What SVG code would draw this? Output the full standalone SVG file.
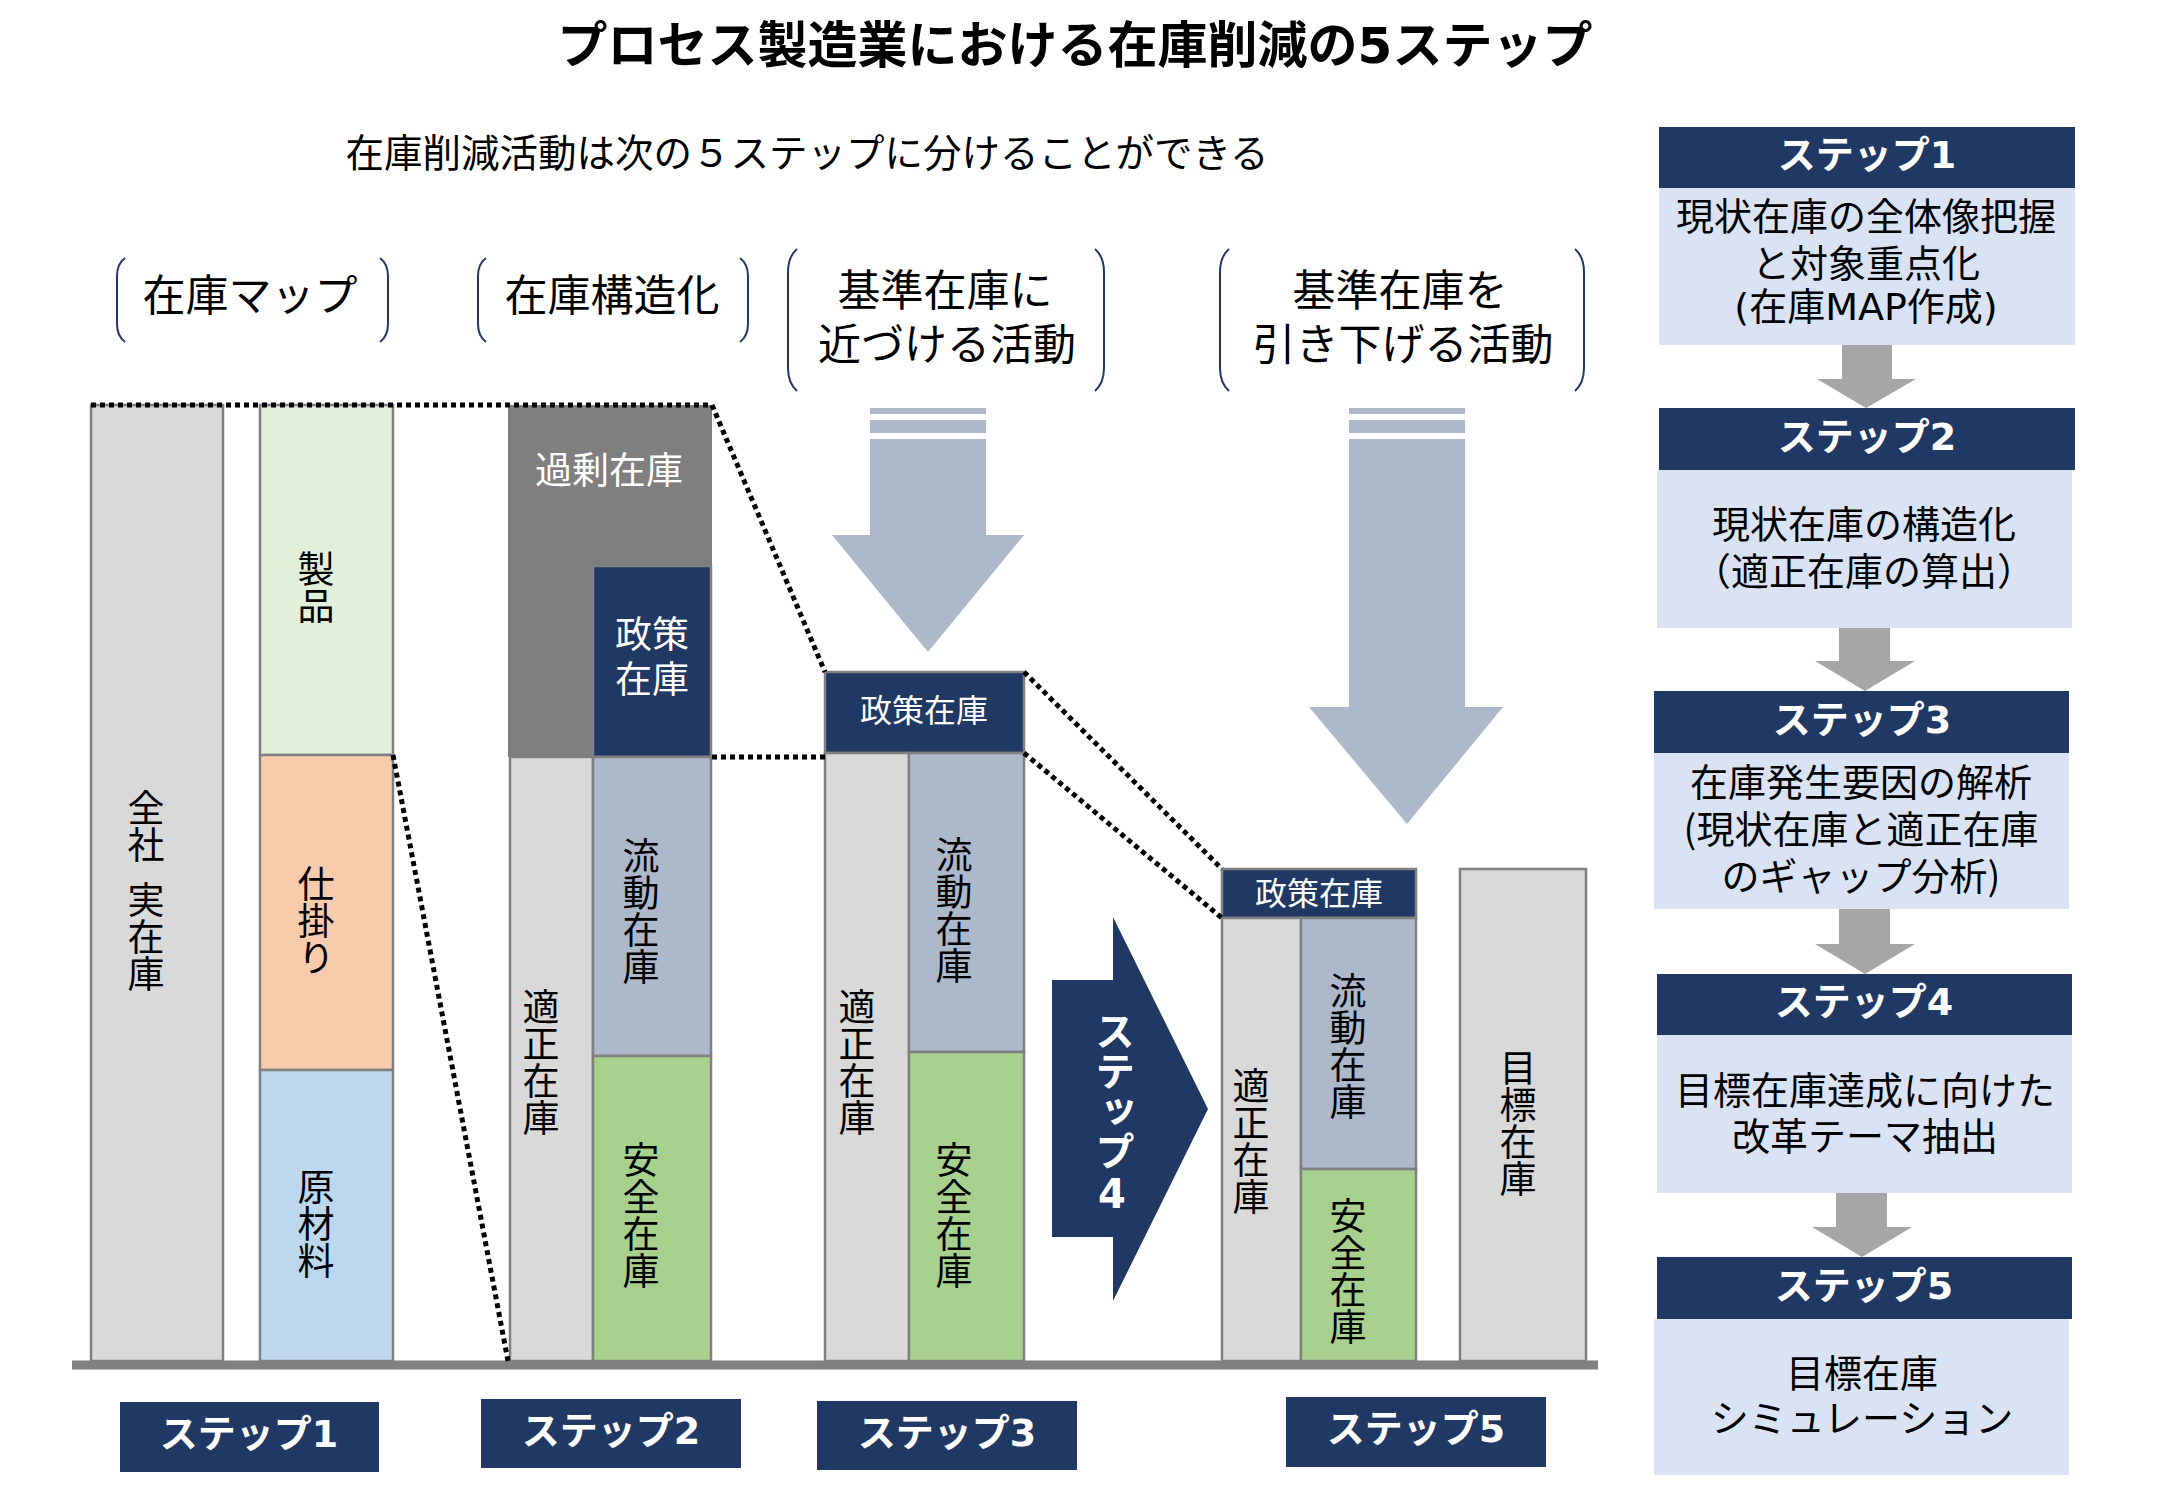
<svg xmlns="http://www.w3.org/2000/svg" width="2160" height="1495" viewBox="0 0 2160 1495">
<style>
.jp{font-family:"Noto Sans CJK JP",sans-serif;}
.lt{font-family:"DejaVu Sans","Noto Sans CJK JP",sans-serif;}
.b{font-weight:bold;}
.c{text-anchor:middle;dominant-baseline:central;}
.v{writing-mode:vertical-rl;text-orientation:upright;text-anchor:middle;}
.w{fill:#ffffff;}
.k{fill:#000000;}
.bar{stroke:#808080;stroke-width:2.5;}
.navy{fill:#203864;}
.dot{fill:none;stroke:#000;stroke-width:5;stroke-dasharray:5 4;}
.brk{fill:none;stroke:#203864;stroke-width:2;}
</style>

<rect width="2160" height="1495" fill="#ffffff"/>

<g id="title">
<text class="lt b c k" x="1075" y="46" font-size="50">プロセス製造業における在庫削減の5ステップ</text>
<text class="jp c k" x="807" y="150" font-size="38.5">在庫削減活動は次の５ステップに分けることができる</text>
</g>

<g id="label-map">
<path class="brk" d="M125,258 Q117,264 117,276 V324 Q117,336 125,342"/>
<path class="brk" d="M380,258 Q388,264 388,276 V324 Q388,336 380,342"/>
<text class="jp c k" x="250" y="292" font-size="43">在庫マップ</text>
</g>
<g id="label-structure">
<path class="brk" d="M486,258 Q478,264 478,276 V324 Q478,336 486,342"/>
<path class="brk" d="M740,258 Q748,264 748,276 V324 Q748,336 740,342"/>
<text class="jp c k" x="612" y="292" font-size="43">在庫構造化</text>
</g>
<g id="label-approach">
<path class="brk" d="M797,249 Q788,257 788,272 V368 Q788,383 797,391"/>
<path class="brk" d="M1095,249 Q1104,257 1104,272 V368 Q1104,383 1095,391"/>
<text class="jp c k" x="945" y="287" font-size="43">基準在庫に</text>
<text class="jp c k" x="947" y="341" font-size="43">近づける活動</text>
</g>
<g id="label-lower">
<path class="brk" d="M1229,249 Q1220,257 1220,272 V368 Q1220,383 1229,391"/>
<path class="brk" d="M1575,249 Q1584,257 1584,272 V368 Q1584,383 1575,391"/>
<text class="jp c k" x="1400" y="287" font-size="43">基準在庫を</text>
<text class="jp c k" x="1403" y="341" font-size="43">引き下げる活動</text>
</g>

<g id="step1-bars">
<rect class="bar" x="91" y="405" width="132" height="956" fill="#d9d9d9"/>
<text class="jp v k" x="146" y="826" font-size="37">全社</text>
<text class="jp v k" x="146" y="937" font-size="37">実在庫</text>
<rect class="bar" x="260" y="405" width="133" height="350" fill="#e2f0d9"/>
<rect class="bar" x="260" y="755" width="133" height="315" fill="#f8cbad"/>
<rect class="bar" x="260" y="1070" width="133" height="291" fill="#bdd7ee"/>
<text class="jp v k" x="316" y="587" font-size="37">製品</text>
<text class="jp v k" x="316" y="921" font-size="37">仕掛り</text>
<text class="jp v k" x="316" y="1224" font-size="37">原材料</text>
</g>

<g id="step2-bars">
<rect x="508" y="405" width="204" height="352" fill="#7f7f7f"/>
<text class="jp c w" x="609" y="468" font-size="37">過剰在庫</text>
<rect class="bar navy" x="593" y="566" width="118" height="191"/>
<text class="jp c w" x="652" y="632" font-size="37">政策</text>
<text class="jp c w" x="652" y="677" font-size="37">在庫</text>
<rect class="bar" x="510" y="757" width="83" height="604" fill="#d9d9d9"/>
<rect class="bar" x="593" y="757" width="118" height="299" fill="#adb9ca"/>
<rect class="bar" x="593" y="1056" width="118" height="305" fill="#a9d18e"/>
<text class="jp v k" x="541" y="1062" font-size="37">適正在庫</text>
<text class="jp v k" x="641" y="911" font-size="37">流動在庫</text>
<text class="jp v k" x="641" y="1215" font-size="37">安全在庫</text>
</g>

<g id="step3-bars">
<rect class="bar navy" x="825" y="672" width="199" height="81"/>
<text class="jp c w" x="924" y="708" font-size="32">政策在庫</text>
<rect class="bar" x="825" y="753" width="84" height="608" fill="#d9d9d9"/>
<rect class="bar" x="909" y="753" width="115" height="299" fill="#adb9ca"/>
<rect class="bar" x="909" y="1052" width="115" height="309" fill="#a9d18e"/>
<text class="jp v k" x="857" y="1062" font-size="37">適正在庫</text>
<text class="jp v k" x="954" y="910" font-size="37">流動在庫</text>
<text class="jp v k" x="954" y="1215" font-size="37">安全在庫</text>
</g>

<g id="step4-arrow">
<path class="navy" d="M1052,980 H1113 V917 L1208,1109 L1113,1301 V1237 H1052 Z"/>
<text class="lt b v w" x="1112" y="1114" font-size="40">ステップ4</text>
</g>

<g id="step5-bars">
<rect class="bar navy" x="1222" y="869" width="194" height="49"/>
<text class="jp c w" x="1319" y="891" font-size="32">政策在庫</text>
<rect class="bar" x="1222" y="918" width="79" height="443" fill="#d9d9d9"/>
<rect class="bar" x="1301" y="918" width="115" height="251" fill="#adb9ca"/>
<rect class="bar" x="1301" y="1169" width="115" height="192" fill="#a9d18e"/>
<text class="jp v k" x="1251" y="1141" font-size="37">適正在庫</text>
<text class="jp v k" x="1348" y="1046" font-size="37">流動在庫</text>
<text class="jp v k" x="1348" y="1271" font-size="37">安全在庫</text>
<rect class="bar" x="1460" y="869" width="126" height="492" fill="#d9d9d9"/>
<text class="jp v k" x="1518" y="1123" font-size="37">目標在庫</text>
</g>

<g id="down-arrows">
<rect x="870" y="408" width="116" height="6" fill="#adb9ca"/>
<rect x="870" y="420" width="116" height="13" fill="#adb9ca"/>
<path d="M870,439 H986 V535 H1024 L928,652 L832,535 H870 Z" fill="#adb9ca"/>
<rect x="1349" y="408" width="116" height="6" fill="#adb9ca"/>
<rect x="1349" y="420" width="116" height="13" fill="#adb9ca"/>
<path d="M1349,439 H1465 V707 H1503 L1407,824 L1309,707 H1349 Z" fill="#adb9ca"/>
</g>

<g id="ground">
<line x1="72" y1="1365" x2="1598" y2="1365" stroke="#808080" stroke-width="9"/>
</g>

<g id="connectors">
<line class="dot" x1="91" y1="405" x2="712" y2="405"/>
<line class="dot" x1="712" y1="405" x2="825" y2="672"/>
<line class="dot" x1="712" y1="757" x2="825" y2="757"/>
<line class="dot" x1="393" y1="755" x2="508" y2="1361"/>
<line class="dot" x1="1024" y1="672" x2="1222" y2="869"/>
<line class="dot" x1="1024" y1="753" x2="1222" y2="918"/>
<path d="M1842,343 H1892 V379 H1916 L1866,408 L1817,379 H1842 Z" fill="#a6a6a6"/>
<path d="M1839,625 H1890 V661 H1915 L1865,691 L1815,661 H1839 Z" fill="#a6a6a6"/>
<path d="M1839,909 H1890 V944 H1915 L1865,974 L1815,944 H1839 Z" fill="#a6a6a6"/>
<path d="M1836,1190 H1887 V1227 H1912 L1862,1257 L1812,1227 H1836 Z" fill="#a6a6a6"/>
</g>

<g id="bottom-step1">
<rect class="navy" x="120" y="1402" width="259" height="70"/>
<text class="lt b c w" x="249" y="1434" font-size="38">ステップ1</text>
</g>
<g id="bottom-step2">
<rect class="navy" x="481" y="1399" width="260" height="69"/>
<text class="lt b c w" x="611" y="1431" font-size="38">ステップ2</text>
</g>
<g id="bottom-step3">
<rect class="navy" x="817" y="1401" width="260" height="69"/>
<text class="lt b c w" x="947" y="1433" font-size="38">ステップ3</text>
</g>
<g id="bottom-step5">
<rect class="navy" x="1286" y="1397" width="260" height="70"/>
<text class="lt b c w" x="1416" y="1429" font-size="38">ステップ5</text>
</g>

<g id="panel-step1">
<rect class="navy" x="1659" y="127" width="416" height="61"/>
<text class="lt b c w" x="1867" y="155" font-size="38">ステップ1</text>
<rect x="1659" y="188" width="416" height="157" fill="#dae3f3"/>
<text class="jp c k" x="1866" y="213" font-size="38">現状在庫の全体像把握</text>
<text class="jp c k" x="1866" y="260" font-size="38">と対象重点化</text>
<text class="lt c k" x="1866" y="307" font-size="38">(在庫MAP作成)</text>
</g>
<g id="panel-step2">
<rect class="navy" x="1659" y="408" width="416" height="62"/>
<text class="lt b c w" x="1867" y="437" font-size="38">ステップ2</text>
<rect x="1657" y="470" width="415" height="158" fill="#dae3f3"/>
<text class="jp c k" x="1864" y="521" font-size="38">現状在庫の構造化</text>
<text class="jp c k" x="1864" y="568" font-size="38">（適正在庫の算出）</text>
</g>
<g id="panel-step3">
<rect class="navy" x="1654" y="691" width="415" height="62"/>
<text class="lt b c w" x="1862" y="720" font-size="38">ステップ3</text>
<rect x="1654" y="753" width="415" height="156" fill="#dae3f3"/>
<text class="jp c k" x="1861" y="779" font-size="38">在庫発生要因の解析</text>
<text class="jp c k" x="1861" y="826" font-size="38">(現状在庫と適正在庫</text>
<text class="jp c k" x="1861" y="873" font-size="38">のギャップ分析)</text>
</g>
<g id="panel-step4">
<rect class="navy" x="1657" y="974" width="415" height="61"/>
<text class="lt b c w" x="1864" y="1002" font-size="38">ステップ4</text>
<rect x="1657" y="1035" width="415" height="158" fill="#dae3f3"/>
<text class="jp c k" x="1865" y="1087" font-size="38">目標在庫達成に向けた</text>
<text class="jp c k" x="1865" y="1133" font-size="38">改革テーマ抽出</text>
</g>
<g id="panel-step5">
<rect class="navy" x="1657" y="1257" width="415" height="62"/>
<text class="lt b c w" x="1864" y="1286" font-size="38">ステップ5</text>
<rect x="1654" y="1319" width="415" height="156" fill="#dae3f3"/>
<text class="jp c k" x="1862" y="1370" font-size="38">目標在庫</text>
<text class="jp c k" x="1862" y="1415" font-size="38">シミュレーション</text>
</g>
</svg>
